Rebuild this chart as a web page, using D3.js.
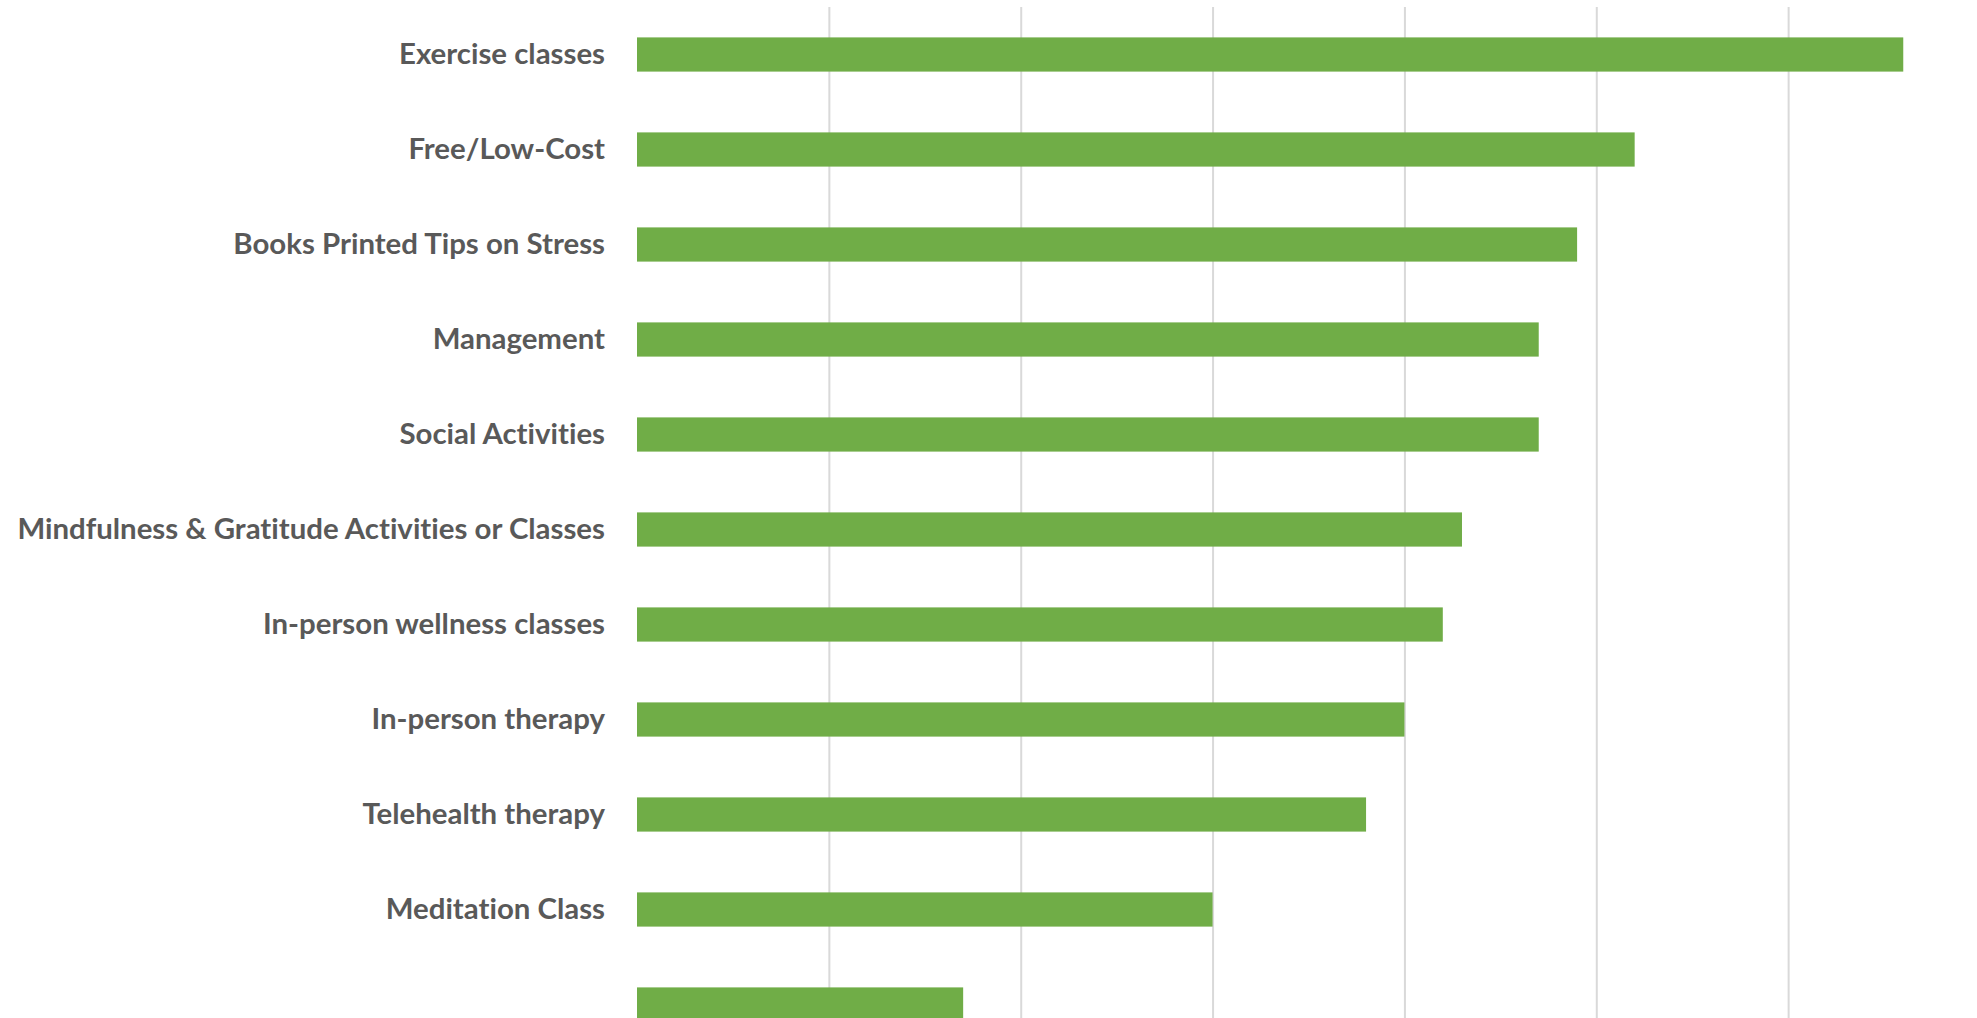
<!DOCTYPE html>
<html>
<head>
<meta charset="utf-8">
<script src="https://cdn.jsdelivr.net/npm/d3@7"></script>
<style>
  html, body { margin: 0; padding: 0; background: #ffffff; }
  svg { display: block; }
  text { font-variant-ligatures: none; font-feature-settings: "liga" 0, "clig" 0; }
</style>
</head>
<body>
<svg id="chart" width="1977" height="1018"></svg>
<script>
// Category labels, top to bottom (the last row carries no label)
const categories = [
  "Exercise classes",
  "Free/Low-Cost",
  "Books Printed Tips on Stress",
  "Management",
  "Social Activities",
  "Mindfulness & Gratitude Activities or Classes",
  "In-person wellness classes",
  "In-person therapy",
  "Telehealth therapy",
  "Meditation Class",
  ""
];

// Bar values, same order as categories
const values = [66, 52, 49, 47, 47, 43, 42, 40, 38, 30, 17];

// Vertical gridline positions
const gridTicks = [10, 20, 30, 40, 50, 60];

const width = 1977, height = 1018;
const svg = d3.select("#chart");

const x = d3.scaleLinear().domain([0, 70]).range([637, 1980]);
const y = d3.scaleBand()
  .domain(d3.range(categories.length))
  .range([7, 7 + 95 * categories.length])
  .paddingInner(0.64)
  .paddingOuter(0.32);

// Gridlines
const grid = svg.append("g")
  .attr("transform", `translate(0,${height})`)
  .call(d3.axisBottom(x).tickValues(gridTicks).tickSize(-(height - 7)).tickFormat(""));
grid.select(".domain").remove();
grid.selectAll(".tick line")
  .attr("stroke", "#d9d9d9")
  .attr("stroke-width", 2);

// Bars
svg.append("g").selectAll("rect")
  .data(values)
  .join("rect")
  .attr("x", x(0))
  .attr("y", (d, i) => y(i))
  .attr("width", d => x(d) - x(0))
  .attr("height", y.bandwidth())
  .attr("fill", "#70ad47");

// Category labels
const fontSize = 29.4;
svg.append("g").selectAll("text")
  .data(categories)
  .join("text")
  .attr("x", 605)
  .attr("y", (d, i) => y(i) + y.bandwidth() / 2 + fontSize * 0.72 / 2 - 1)
  .attr("text-anchor", "end")
  .attr("font-family", "Lato, 'Open Sans', sans-serif")
  .attr("font-weight", 700)
  .attr("font-size", fontSize)
  .attr("fill", "#595959")
  .text(d => d);
</script>
</body>
</html>
